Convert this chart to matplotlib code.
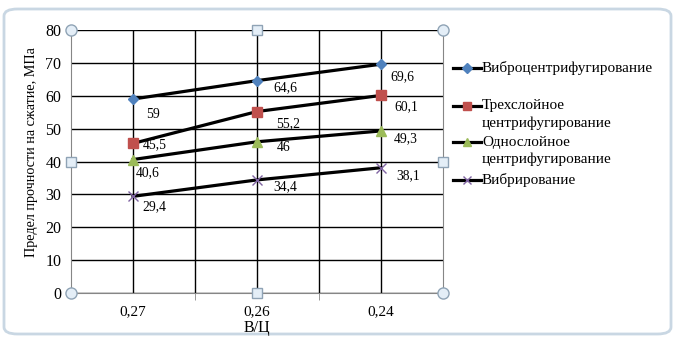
import numpy as np
import matplotlib
matplotlib.use('Agg')
import matplotlib.pyplot as plt
from matplotlib.patches import FancyBboxPatch
from matplotlib.lines import Line2D

plt.rcParams['font.family'] = ['Liberation Serif', 'DejaVu Serif']
plt.rcParams['font.size'] = 11

#Data
categories = ['0,27', '0,26', '0,24']
vibrocentr = [59, 64.6, 69.6]
three_layer = [45.5, 55.2, 60.1]
one_layer = [40.6, 46, 49.3]
vibration = [29.4, 34.4, 38.1]
names = ['Виброцентрифугирование', 'Трехслойное\nцентрифугирование',
         'Однослойное\nцентрифугирование', 'Вибрирование']

series = [vibrocentr, three_layer, one_layer, vibration]
markers = ['D', 's', '^', 'x']
mcolors = ['#4F81BD', '#C0504D', '#9BBB59', '#8064A2']
msizes = [5.5, 7.2, 7, 7]

#label offsets in pixels (right, down) per series/point, as placed in the original
lab_off = [[(13, 15), (16, 7.5), (9, 12)],
           [(10, 1.5), (19, 12.5), (13, 11.5)],
           [(3, 13.5), (20, 6), (13, 8)],
           [(9, 10.7), (16, 7), (15, 8)]]

W, H = 679, 347
fig = plt.figure(figsize=(W/100, H/100), dpi=100)

#chart frame (rounded border)
frame = FancyBboxPatch((4/W, 13/H), 667/W, 325/H,
                       boxstyle='round,pad=0,rounding_size=0.02',
                       transform=fig.transFigure, fc='white',
                       ec='#C9D7E3', lw=2, zorder=-5)
fig.patches.append(frame)

ax = fig.add_axes([71/W, (H-293)/H, 372/W, 263/H])
ax.patch.set_alpha(0)
x = np.arange(len(categories))

for s, m, c, ms, offs in zip(series, markers, mcolors, msizes, lab_off):
    ax.plot(x, s, color='black', lw=2.3, marker=m, ms=ms, mfc=c, mec=c,
            mew=1, zorder=3)
    for xi, v, (dx, dy) in zip(x, s, offs):
        ax.annotate(f'{v:g}'.replace('.', ','), (xi, v),
                    xytext=(dx, -dy), textcoords='offset pixels',
                    ha='left', va='center', fontsize=9.8, zorder=4)

ax.set_xlim(-0.5, 2.5)
ax.set_ylim(0, 80)
ax.set_yticks(np.arange(0, 81, 10))
ax.set_xticks(x)
ax.set_xticklabels(categories)
ax.set_xticks([0.5, 1.5], minor=True)
ax.tick_params(axis='x', which='major', length=0, pad=9, labelsize=11)
ax.tick_params(axis='x', which='minor', length=5, color='#868686')
ax.tick_params(axis='y', length=0, pad=7, labelsize=11.5)
ax.grid(True, which='both', color='black', lw=1)
ax.set_axisbelow(True)
for sp in ax.spines.values():
    sp.set_color('#868686')
ax.spines['top'].set_visible(False)
ax.set_xlabel('В/Ц', labelpad=1, fontsize=11.5)
ax.set_ylabel('Предел прочности на сжатие, МПа', fontsize=10.2)
ax.yaxis.set_label_coords(-0.088, 0.536)

#selection handles
hx = [0, 1, 0, 1]
hy = [0, 0, 1, 1]
ax.plot(hx, hy, 'o', ms=8, mfc='#E4EEF7', mec='#8FA3B5', mew=1,
        transform=ax.transAxes, clip_on=False, zorder=5)
sx = [0.5, 0.5, 0, 1]
sy = [0, 1, 0.5, 0.5]
ax.plot(sx, sy, 's', ms=6.5, mfc='#E4EEF7', mec='#8FA3B5', mew=1,
        transform=ax.transAxes, clip_on=False, zorder=5)

#legend, laid out like the Excel one (handle on the first text line)
leg_y = [68, 106, 142, 180]
line_step = 17.5
for yy, n, m, c, ms in zip(leg_y, names, markers, mcolors, msizes):
    fy = 1 - yy/H
    fig.add_artist(Line2D([453/W, 481/W], [fy, fy], color='black', lw=2.3))
    fig.add_artist(Line2D([467/W], [fy], marker=m, ms=ms*0.85, mfc=c,
                          mec=c, mew=1, ls='none'))
    for k, part in enumerate(n.split('\n')):
        fig.text(482/W, 1 - (yy + k*line_step)/H, part, ha='left',
                 va='center', fontsize=11)

fig.savefig('out.png', dpi=100)
